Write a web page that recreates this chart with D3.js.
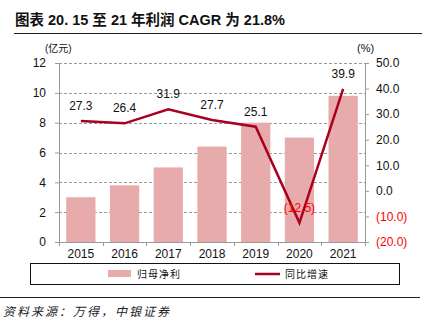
<!DOCTYPE html>
<html>
<head>
<meta charset="utf-8">
<script src="https://d3js.org/d3.v7.min.js"></script>
<style>
  body { margin: 0; background: #fff; }
  svg text { font-family: "Liberation Sans", Arial, sans-serif; }
  .cjk { font-family: "Liberation Sans", "Noto Sans CJK SC", sans-serif; }
</style>
</head>
<body>
<div id="chart"></div>
<script>
// data
var years = ["2015", "2016", "2017", "2018", "2019", "2020", "2021"];
var profit = [3.0, 3.8, 5.0, 6.4, 8.0, 7.0, 9.8];      // 归母净利 (亿元)
var growth = [27.3, 26.4, 31.9, 27.7, 25.1, -12.5, 39.9]; // 同比增速 (%)
var leftTicks = [0, 2, 4, 6, 8, 10, 12];
var rightTicks = [-20, -10, 0, 10, 20, 30, 40, 50];

var W = 427, H = 322;
var margin = {top: 63, right: 62, bottom: 80, left: 59},
    width = W - margin.left - margin.right,
    height = H - margin.top - margin.bottom;

var barColor = "#e8abab", lineColor = "#a8001e";

var svg = d3.select("#chart").append("svg")
    .attr("width", W)
    .attr("height", H);

// title
svg.append("text")
    .attr("class", "cjk")
    .attr("x", 15).attr("y", 25)
    .attr("font-size", 14.5).attr("font-weight", "bold")
    .attr("fill", "#111")
    .text("图表 20. 15 至 21 年利润 CAGR 为 21.8%");
svg.append("line")
    .attr("x1", 14).attr("x2", 422).attr("y1", 33.5).attr("y2", 33.5)
    .attr("stroke", "#222").attr("stroke-width", 1);

var x = d3.scaleBand().domain(years).range([0, width]).paddingInner(0.33).paddingOuter(0.165),
    y = d3.scaleLinear().domain([0, 12]).range([height, 0]),
    y2 = d3.scaleLinear().domain([-20, 50]).range([height, 0]);

var g = svg.append("g")
    .attr("transform", "translate(" + margin.left + "," + margin.top + ")");

// grid
g.append("g").selectAll("line")
    .data(leftTicks.filter(function(d) { return d > 0; }))
  .enter().append("line")
    .attr("x1", 0).attr("x2", width)
    .attr("y1", function(d) { return Math.round(y(d)) + 0.5; })
    .attr("y2", function(d) { return Math.round(y(d)) + 0.5; })
    .attr("stroke", "#9a9a9a")
    .attr("stroke-dasharray", "3,2");

// bars
g.append("g").selectAll("rect")
    .data(profit)
  .enter().append("rect")
    .attr("x", function(d, i) { return x(years[i]); })
    .attr("width", x.bandwidth())
    .attr("y", function(d) { return y(d); })
    .attr("height", function(d) { return height - y(d); })
    .attr("fill", barColor);

// axes
var yAxis = d3.axisLeft(y).tickValues(leftTicks).tickSize(4).tickPadding(9);
var yAxis2 = d3.axisRight(y2).tickValues(rightTicks).tickSize(4).tickPadding(7)
    .tickFormat(function(d) { return d < 0 ? "(" + d3.format(".1f")(-d) + ")" : d3.format(".1f")(d); });

var ga = g.append("g").attr("class", "y axis").call(yAxis);
var gb = g.append("g").attr("class", "y2 axis")
    .attr("transform", "translate(" + width + ",0)").call(yAxis2);
[ga, gb].forEach(function(a) {
    a.select(".domain").attr("stroke", "#999");
    a.selectAll(".tick line").attr("stroke", "#999");
    a.selectAll("text").attr("font-size", 12).attr("fill", "#111")
        .attr("font-family", "Liberation Sans, Arial, sans-serif");
});
gb.selectAll(".tick text").attr("fill", function(d) { return d < 0 ? "#ff0000" : "#111"; });

// x axis
var gx = g.append("g").attr("transform", "translate(0," + height + ")");
gx.append("line").attr("x1", 0).attr("x2", width).attr("y1", 0.5).attr("y2", 0.5).attr("stroke", "#999");
var bounds = d3.range(years.length + 1).map(function(i) { return i * x.step(); });
gx.selectAll(".tk").data(bounds).enter().append("line")
    .attr("x1", function(d) { return Math.round(d) + 0.5; })
    .attr("x2", function(d) { return Math.round(d) + 0.5; })
    .attr("y1", 0).attr("y2", 4).attr("stroke", "#999");
gx.selectAll(".lbl").data(years).enter().append("text")
    .attr("x", function(d) { return x(d) + x.bandwidth() / 2; })
    .attr("y", 16)
    .attr("text-anchor", "middle")
    .attr("font-size", 12).attr("fill", "#111")
    .text(function(d) { return d; });

// growth line
var line = d3.line()
    .x(function(d, i) { return x(years[i]) + x.bandwidth() / 2; })
    .y(function(d) { return y2(d); });

g.append("path")
    .datum(growth)
    .attr("d", line)
    .attr("fill", "none")
    .attr("stroke", lineColor)
    .attr("stroke-width", 2.5);

g.append("g").selectAll("text")
    .data(growth)
  .enter().append("text")
    .attr("x", function(d, i) { return x(years[i]) + x.bandwidth() / 2; })
    .attr("y", function(d) { return y2(d) - 11; })
    .attr("text-anchor", "middle")
    .attr("font-size", 12)
    .attr("fill", function(d) { return d < 0 ? "#ff0000" : "#111"; })
    .text(function(d) { return d < 0 ? "(" + (-d).toFixed(1) + ")" : d.toFixed(1); });

// units
svg.append("text").attr("class", "cjk")
    .attr("x", 45).attr("y", 52).attr("font-size", 10).attr("fill", "#111")
    .text("(亿元)");
svg.append("text")
    .attr("x", 357).attr("y", 52).attr("font-size", 11).attr("fill", "#111")
    .text("(%)");

// legend
svg.append("rect")
    .attr("x", 30.5).attr("y", 263.5).attr("width", 369).attr("height", 21)
    .attr("fill", "#fff").attr("stroke", "#111").attr("stroke-width", 1);
svg.append("rect")
    .attr("x", 108).attr("y", 270).attr("width", 23).attr("height", 7)
    .attr("fill", barColor);
svg.append("text").attr("class", "cjk")
    .attr("x", 137).attr("y", 278).attr("font-size", 10).attr("fill", "#111")
    .attr("letter-spacing", 1)
    .text("归母净利");
svg.append("line")
    .attr("x1", 255).attr("x2", 280).attr("y1", 274).attr("y2", 274)
    .attr("stroke", lineColor).attr("stroke-width", 2.5);
svg.append("text").attr("class", "cjk")
    .attr("x", 285).attr("y", 278).attr("font-size", 10).attr("fill", "#111")
    .attr("letter-spacing", 1)
    .text("同比增速");

// source
svg.append("line")
    .attr("x1", 0).attr("x2", 420).attr("y1", 297.5).attr("y2", 297.5)
    .attr("stroke", "#222").attr("stroke-width", 1);
svg.append("text").attr("class", "cjk")
    .attr("x", 3).attr("y", 316).attr("font-size", 12).attr("fill", "#222")
    .attr("font-style", "italic").attr("letter-spacing", 2)
    .text("资料来源：万得，中银证券");
</script>
</body>
</html>
